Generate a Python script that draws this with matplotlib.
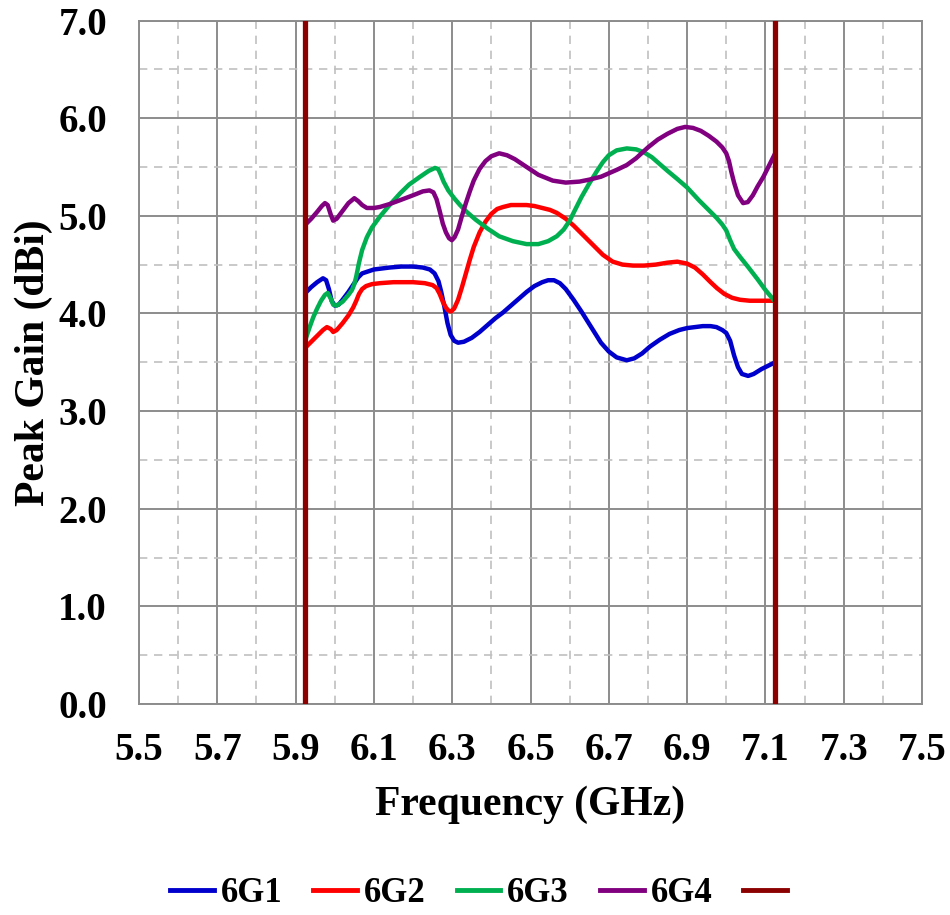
import matplotlib
matplotlib.use("Agg")
import matplotlib.pyplot as plt
from matplotlib.lines import Line2D
from matplotlib.ticker import MultipleLocator, FormatStrFormatter

# ---- data ----
g1_x = [5.925, 5.94, 5.955, 5.97, 5.978, 5.985, 5.992, 6.0, 6.01, 6.02, 6.035, 6.05, 6.06, 6.07, 6.085, 6.1,
        6.12, 6.14, 6.17, 6.2, 6.225, 6.243, 6.255, 6.265, 6.272, 6.28, 6.288, 6.296, 6.305, 6.315,
        6.33, 6.35, 6.37, 6.39, 6.41, 6.43, 6.45, 6.47, 6.49, 6.51, 6.53, 6.545, 6.56, 6.575, 6.59, 6.61,
        6.63, 6.655, 6.68, 6.70, 6.72, 6.746, 6.765, 6.785, 6.805, 6.83, 6.855, 6.88, 6.90, 6.92, 6.94,
        6.96, 6.975, 6.99, 7.0, 7.01, 7.02, 7.03, 7.04, 7.056, 7.07, 7.09, 7.11, 7.125]
g1_y = [4.21, 4.27, 4.32, 4.36, 4.34, 4.25, 4.13, 4.08, 4.09, 4.14, 4.22, 4.31, 4.37, 4.41, 4.43, 4.45,
        4.46, 4.47, 4.48, 4.48, 4.47, 4.45, 4.41, 4.33, 4.22, 4.07, 3.90, 3.78, 3.72, 3.70,
        3.71, 3.75, 3.81, 3.88, 3.95, 4.01, 4.08, 4.15, 4.22, 4.28, 4.32, 4.34, 4.34, 4.31, 4.25, 4.14,
        4.02, 3.86, 3.70, 3.61, 3.55, 3.52, 3.54, 3.59, 3.66, 3.73, 3.79, 3.83, 3.85, 3.86, 3.87,
        3.87, 3.86, 3.83, 3.80, 3.72, 3.57, 3.45, 3.38, 3.36, 3.38, 3.43, 3.47, 3.50]

g2_x = [5.925, 5.94, 5.955, 5.97, 5.98, 5.99, 5.996, 6.005, 6.02, 6.035, 6.047, 6.055, 6.062, 6.07, 6.08,
        6.095, 6.116, 6.15, 6.2, 6.23, 6.25, 6.26, 6.268, 6.276, 6.284, 6.29, 6.297, 6.305, 6.315,
        6.325, 6.335, 6.345, 6.355, 6.37, 6.385, 6.40, 6.415, 6.43, 6.45, 6.47, 6.49, 6.51, 6.53, 6.55,
        6.567, 6.59, 6.61, 6.635, 6.66, 6.685, 6.71, 6.735, 6.762, 6.79, 6.82, 6.85, 6.875, 6.9, 6.92,
        6.94, 6.96, 6.976, 6.995, 7.015, 7.035, 7.06, 7.09, 7.125]
g2_y = [3.65, 3.71, 3.77, 3.83, 3.86, 3.84, 3.81, 3.83, 3.90, 3.98, 4.06, 4.13, 4.20, 4.25, 4.28,
        4.30, 4.31, 4.32, 4.32, 4.31, 4.29, 4.26, 4.20, 4.12, 4.06, 4.03, 4.02, 4.05, 4.14,
        4.27, 4.41, 4.55, 4.68, 4.83, 4.94, 5.02, 5.07, 5.09, 5.11, 5.11, 5.11, 5.10, 5.08, 5.06,
        5.03, 4.97, 4.90, 4.80, 4.70, 4.60, 4.53, 4.50, 4.49, 4.49, 4.50, 4.52, 4.53, 4.51, 4.47,
        4.40, 4.32, 4.26, 4.20, 4.16, 4.14, 4.13, 4.13, 4.13]

g3_x = [5.925, 5.935, 5.945, 5.955, 5.965, 5.975, 5.982, 5.99, 5.996, 6.005, 6.02, 6.035, 6.044, 6.05,
        6.055, 6.062, 6.07, 6.082, 6.095, 6.115, 6.14, 6.167, 6.19, 6.218, 6.24, 6.256, 6.264, 6.27,
        6.278, 6.29, 6.305, 6.32, 6.337, 6.36, 6.39, 6.42, 6.455, 6.49, 6.52, 6.545, 6.567, 6.585, 6.6,
        6.615, 6.63, 6.65, 6.67, 6.685, 6.70, 6.72, 6.746, 6.77, 6.79, 6.81, 6.83, 6.85, 6.874, 6.90,
        6.93, 6.955, 6.975, 6.99, 7.0, 7.01, 7.02, 7.035, 7.055, 7.08, 7.10, 7.125]
g3_y = [3.73, 3.85, 3.96, 4.05, 4.13, 4.19, 4.21, 4.15, 4.09, 4.08, 4.12, 4.19, 4.24, 4.30,
        4.38, 4.52, 4.65, 4.78, 4.88, 4.99, 5.11, 5.23, 5.32, 5.40, 5.46, 5.49, 5.48, 5.43,
        5.35, 5.26, 5.18, 5.11, 5.04, 4.96, 4.87, 4.79, 4.74, 4.71, 4.71, 4.74, 4.79, 4.86, 4.95,
        5.07, 5.19, 5.33, 5.46, 5.55, 5.62, 5.67, 5.69, 5.68, 5.65, 5.60, 5.53, 5.46, 5.38, 5.29,
        5.16, 5.06, 4.98, 4.91, 4.85, 4.75, 4.66, 4.58, 4.48, 4.35, 4.24, 4.12]

g4_x = [5.925, 5.94, 5.955, 5.967, 5.975, 5.982, 5.99, 5.996, 6.005, 6.02, 6.035, 6.05, 6.06, 6.07, 6.082,
        6.1, 6.115, 6.14, 6.167, 6.2, 6.225, 6.242, 6.252, 6.26, 6.268, 6.276, 6.284, 6.292, 6.299,
        6.306, 6.315, 6.325, 6.335, 6.345, 6.355, 6.37, 6.385, 6.40, 6.42, 6.44, 6.46, 6.49, 6.52,
        6.557, 6.59, 6.625, 6.65, 6.68, 6.72, 6.746, 6.77, 6.80, 6.825, 6.85, 6.875, 6.895, 6.915,
        6.935, 6.955, 6.975, 6.99, 7.0, 7.007, 7.013, 7.02, 7.03, 7.043, 7.055, 7.068, 7.08, 7.095,
        7.11, 7.125]
g4_y = [4.91, 4.97, 5.04, 5.10, 5.13, 5.11, 5.01, 4.95, 4.97, 5.05, 5.13, 5.18, 5.15, 5.11, 5.08,
        5.08, 5.09, 5.12, 5.16, 5.21, 5.25, 5.26, 5.24, 5.17, 5.05, 4.92, 4.83, 4.77, 4.75,
        4.78, 4.86, 5.00, 5.13, 5.25, 5.36, 5.48, 5.56, 5.61, 5.64, 5.62, 5.58, 5.50, 5.42,
        5.36, 5.34, 5.35, 5.37, 5.40, 5.47, 5.52, 5.59, 5.70, 5.78, 5.84, 5.89, 5.91, 5.90,
        5.87, 5.82, 5.76, 5.70, 5.64, 5.56, 5.45, 5.34, 5.21, 5.13, 5.14, 5.21, 5.30, 5.40,
        5.52, 5.64]

band_edges = [5.925, 7.125]

series_names = ["6G1", "6G2", "6G3", "6G4"]
series_colors = ["#0000CC", "#FF0000", "#00B050", "#800080"]
band_color = "#8B0000"

x_ticks = [5.5, 5.7, 5.9, 6.1, 6.3, 6.5, 6.7, 6.9, 7.1, 7.3, 7.5]

# ---- figure ----
plt.rcParams['font.family'] = ['Liberation Serif', 'DejaVu Serif']
plt.rcParams['font.weight'] = 'bold'

fig = plt.figure(figsize=(9.5, 9.15), dpi=100)
ax = fig.add_axes([139/950, (915-704)/915, 783/950, 683.5/915])

ax.set_xlim(5.5, 7.5)
ax.set_ylim(0, 7.0)
ax.set_xticks(x_ticks)
ax.xaxis.set_minor_locator(MultipleLocator(0.1))
ax.yaxis.set_major_locator(MultipleLocator(1.0))
ax.yaxis.set_minor_locator(MultipleLocator(0.5))
ax.yaxis.set_major_formatter(FormatStrFormatter('%.1f'))
ax.xaxis.set_major_formatter(FormatStrFormatter('%.1f'))

ax.grid(True, which='major', color='#8c8c8c', linewidth=1.4, linestyle='-')
ax.grid(True, which='minor', color='#c0c0c0', linewidth=1.2, linestyle=(0, (5, 4)))
ax.set_axisbelow(True)
for s in ax.spines.values():
    s.set_color('#8c8c8c')
    s.set_linewidth(1.4)

ax.tick_params(which='both', length=0)
ax.tick_params(axis='x', pad=20, labelsize=28)
ax.tick_params(axis='y', pad=23, labelsize=28)
for lab in ax.get_xticklabels() + ax.get_yticklabels():
    lab.set_fontweight('bold')

handles = []
for xs, ys, c in zip([g1_x, g2_x, g3_x, g4_x], [g1_y, g2_y, g3_y, g4_y], series_colors):
    h, = ax.plot(xs, ys, color=c, linewidth=3.2, solid_joinstyle='round', solid_capstyle='round')
    handles.append(h)

for xe in band_edges:
    hb = ax.axvline(xe, color=band_color, linewidth=3.8, zorder=5)
handles.append(hb)

ax.set_xlabel("Frequency (GHz)", fontsize=30, fontweight='bold', labelpad=12)
ax.set_ylabel("Peak Gain (dBi)", fontsize=30, fontweight='bold', labelpad=4)

leg_labels = series_names + [""]
leg_handles = [Line2D([0], [0], color=h.get_color(), linewidth=3.5) for h in handles]
fig.legend(leg_handles, leg_labels, loc='center', bbox_to_anchor=(482/950, 1 - 894/915),
           ncol=5, frameon=False, prop={'size': 25, 'weight': 'bold'},
           handlelength=1.25, handletextpad=0.2, columnspacing=0.9,
           borderpad=0.1)

fig.savefig("out.png", dpi=100)
